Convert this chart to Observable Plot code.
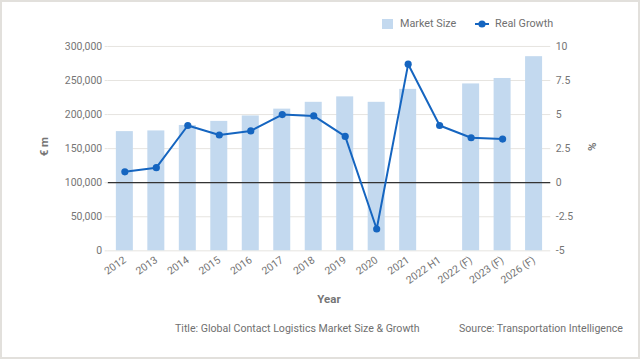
<!DOCTYPE html>
<html>
<head>
<meta charset="utf-8">
<script src="https://cdn.jsdelivr.net/npm/d3@7"></script>
<script src="https://cdn.jsdelivr.net/npm/@observablehq/plot@0.6"></script>
<style>
  html, body { margin: 0; padding: 0; background: #fff; }
  #frame { position: relative; width: 640px; height: 359px; box-sizing: border-box; border: 2px solid #e2e0dc; font-family: Roboto, sans-serif; color: #757575; overflow: hidden; }
  #legend { position: absolute; left: 0; top: 0; width: 100%; height: 34px; }
  #chart { position: absolute; left: -2px; top: 32px; }
  .lg { position: absolute; font-size: 10.8px; color: #707070; white-space: nowrap; }
  #caption { position: absolute; left: 0; top: 320px; width: 100%; font-size: 10.6px; color: #707070; }
  #caption span { position: absolute; white-space: nowrap; }
</style>
</head>
<body>
<div id="frame">
  <div id="legend">
    <div class="lg" style="left:380px;top:17px;width:10.5px;height:10px;background:#c3d9ef"></div>
    <div class="lg" style="left:398px;top:15px;">Market Size</div>
    <svg class="lg" style="left:472px;top:14px;" width="16" height="16"><line x1="1" y1="8" x2="15" y2="8" stroke="#1565c0" stroke-width="2"/><circle cx="8" cy="8" r="3.6" fill="#1565c0"/></svg>
    <div class="lg" style="left:493px;top:15px;">Real Growth</div>
  </div>
  <div id="chart"></div>
  <div id="caption">
    <span style="left:173px;">Title: Global Contact Logistics Market Size &amp; Growth</span>
    <span style="left:457px;">Source: Transportation Intelligence</span>
  </div>
</div>
<script>
const categories = ["2012","2013","2014","2015","2016","2017","2018","2019","2020","2021","2022 H1","2022 (F)","2023 (F)","2026 (F)"];
const marketSize = [175000,176000,184000,190000,198000,208000,218000,226000,218000,237000,null,245000,253000,285000];
const realGrowth = [0.8,1.1,4.2,3.5,3.8,5.0,4.9,3.4,-3.4,8.7,4.2,3.3,3.2,null];
const leftTicks = [0,50000,100000,150000,200000,250000,300000];
const rightTicks = [-5,-2.5,0,2.5,5,7.5,10];

// growth axis (-5..10) mapped onto market-size axis (0..300000)
const gToY = g => (g + 5) / 15 * 300000;
const yToG = y => y / 300000 * 15 - 5;

const rows = categories.map((c, i) => ({cat: c, size: marketSize[i], growth: realGrowth[i]}));
const barRows = rows.filter(d => d.size != null);

const fmtLeft = d3.format(",");
const fmtRight = v => { const g = Math.round(yToG(v) * 10) / 10; return String(g); };

const chart = Plot.plot({
  width: 640,
  height: 277,
  marginTop: 12,
  marginBottom: 60,
  marginLeft: 108,
  marginRight: 88,
  style: {fontFamily: "Roboto, sans-serif", fontSize: "10.5px", color: "#757575", background: "transparent"},
  x: {type: "band", domain: categories, paddingInner: 0.46, paddingOuter: 0.26, round: false, label: null},
  y: {domain: [0, 300000], label: null},
  marks: [
    Plot.gridY(leftTicks, {stroke: "#e6e4e0", strokeOpacity: 1}),
    Plot.barY(barRows, {x: "cat", y: "size", fill: "#c3d9ef"}),
    Plot.ruleY([gToY(0)], {stroke: "#333", strokeWidth: 1.2}),
    Plot.axisY(leftTicks, {anchor: "left", tickFormat: fmtLeft, tickSize: 3, tickPadding: 3, stroke: "#e6e4e0", fill: "#757575", label: null}),
    Plot.axisY(rightTicks.map(gToY), {anchor: "right", tickFormat: fmtRight, tickSize: 0, tickPadding: 5, fill: "#757575", label: null}),
    Plot.axisX({tickRotate: -35, tickSize: 0, tickPadding: 8, fill: "#757575", label: null}),
    Plot.line(rows, {x: "cat", y: d => d.growth == null ? NaN : gToY(d.growth), stroke: "#1565c0", strokeWidth: 2}),
    Plot.dot(rows.filter(d => d.growth != null), {x: "cat", y: d => gToY(d.growth), r: 3.6, fill: "#1565c0"})
  ]
});

const svg = d3.select(chart);
svg.append("text").attr("x", 330).attr("y", 270).attr("text-anchor", "middle")
  .attr("fill", "#757575").style("font-size", "11.5px").style("font-weight", "bold").text("Year");
svg.append("text").attr("transform", "translate(48,113) rotate(-90)").attr("text-anchor", "middle")
  .attr("fill", "#757575").style("font-size", "11.5px").style("font-weight", "bold").text("€ m");
svg.append("text").attr("transform", "translate(590,113) rotate(90)").attr("text-anchor", "middle")
  .attr("fill", "#757575").style("font-size", "11.5px").style("font-weight", "bold").text("%");

document.getElementById("chart").appendChild(chart);
</script>
</body>
</html>
